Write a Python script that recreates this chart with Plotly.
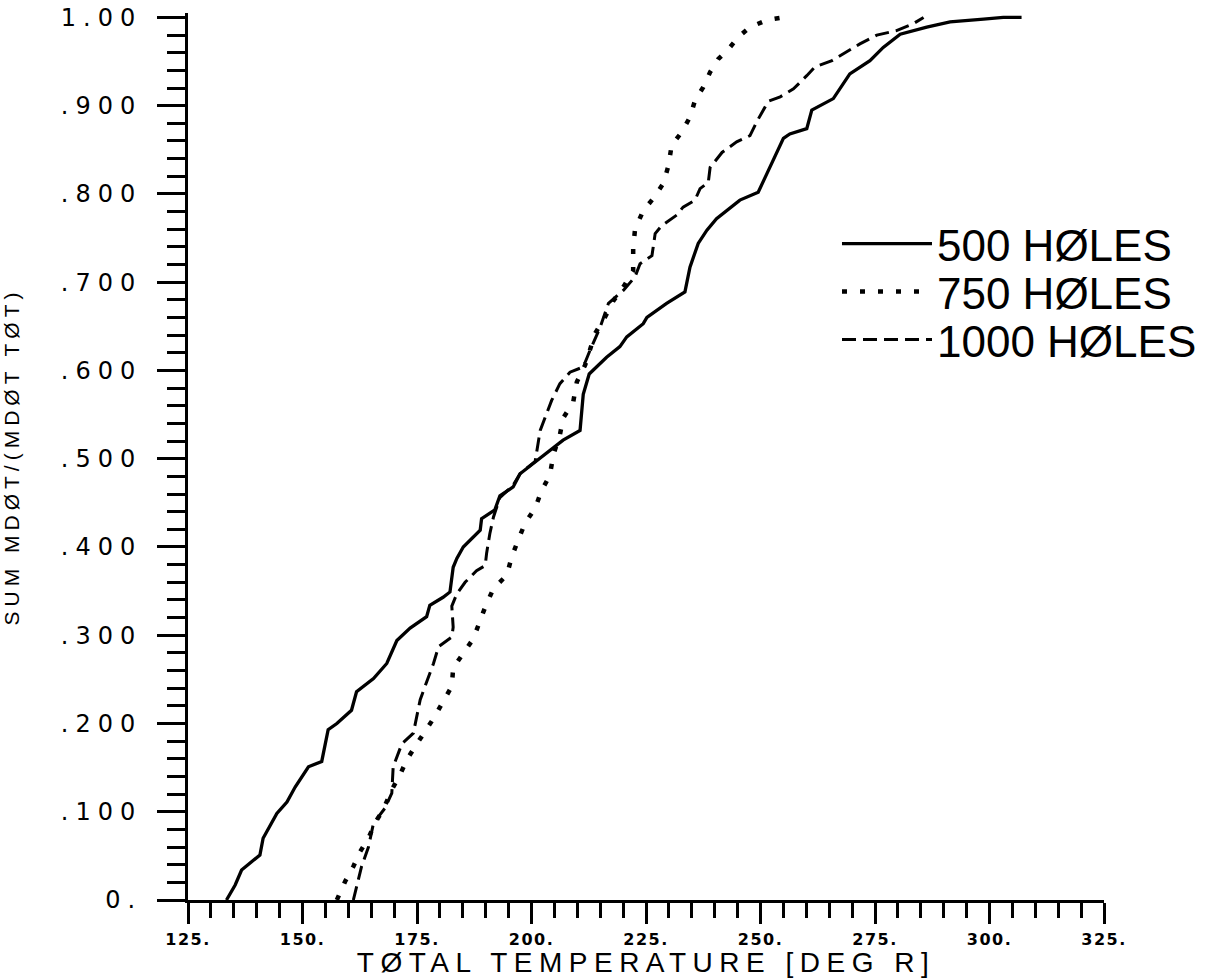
import plotly.graph_objects as go

# ---- data ----
temp_500 = [133.4, 135.3, 136.7, 140.7, 141.4, 144.4, 146.6, 148.4, 151.3, 154.2, 155.6, 157.5,
            160.7, 161.8, 165.5, 168.4, 170.6, 173.5, 177.1, 177.8, 180.7, 182.2, 182.9, 183.7,
            185.1, 188.8, 189.1, 192.0, 193.1, 196.0, 197.5, 200.4, 203.7, 206.9, 210.6, 211.3,
            212.6, 215.0, 216.4, 219.3, 220.8, 224.4, 225.2, 229.5, 233.5, 234.6, 236.4, 238.3,
            240.4, 245.5, 249.5, 251.4, 255.0, 256.4, 260.1, 261.2, 265.9, 269.5, 273.9, 276.8,
            280.5, 286.3, 291.4, 298.7, 303.0, 307.0]
frac_500 = [0.0, 0.017, 0.034, 0.051, 0.070, 0.098, 0.111, 0.128, 0.151, 0.157, 0.193, 0.200,
            0.215, 0.236, 0.251, 0.268, 0.294, 0.308, 0.321, 0.334, 0.343, 0.349, 0.377, 0.387,
            0.400, 0.419, 0.432, 0.442, 0.458, 0.468, 0.483, 0.495, 0.508, 0.521, 0.532, 0.573,
            0.596, 0.608, 0.615, 0.627, 0.638, 0.653, 0.660, 0.676, 0.689, 0.717, 0.744, 0.759,
            0.772, 0.793, 0.802, 0.823, 0.863, 0.868, 0.874, 0.895, 0.908, 0.936, 0.951, 0.966,
            0.981, 0.989, 0.995, 0.998, 1.0, 1.0]

temp_750 = [157.5, 159.3, 161.1, 162.6, 164.4, 165.8, 167.6, 169.5, 171.3, 172.8, 174.6, 176.8,
            178.9, 180.7, 182.6, 182.9, 185.1, 187.3, 189.9, 191.7, 194.6, 195.7, 197.1, 198.6,
            200.8, 202.2, 204.0, 204.8, 206.2, 206.9, 209.1, 209.9, 211.7, 212.8, 213.9, 216.1,
            217.9, 220.1, 222.2, 222.2, 222.6, 224.4, 226.6, 228.8, 229.9, 230.6, 232.8, 234.6,
            235.7, 237.5, 239.0, 240.8, 243.0, 245.2, 247.7, 251.4, 255.0]
frac_750 = [0.0, 0.021, 0.038, 0.055, 0.070, 0.087, 0.102, 0.125, 0.142, 0.159, 0.174, 0.191,
            0.208, 0.225, 0.242, 0.263, 0.279, 0.296, 0.332, 0.353, 0.368, 0.389, 0.408, 0.427,
            0.444, 0.464, 0.481, 0.505, 0.527, 0.546, 0.564, 0.587, 0.606, 0.623, 0.642, 0.661,
            0.679, 0.695, 0.713, 0.738, 0.760, 0.781, 0.795, 0.812, 0.832, 0.855, 0.870, 0.887,
            0.906, 0.921, 0.938, 0.953, 0.964, 0.978, 0.989, 0.997, 1.0]

temp_1000 = [161.1, 162.9, 164.4, 165.5, 168.0, 169.5, 169.8, 171.7, 174.2, 174.9, 175.7, 177.1,
             178.6, 179.7, 182.6, 182.9, 182.6, 183.7, 185.5, 188.0, 189.9, 190.2, 190.9, 191.7,
             193.1, 196.0, 197.5, 200.8, 201.9, 204.4, 206.2, 208.4, 211.3, 212.8, 215.0, 216.8,
             220.1, 222.6, 223.7, 226.3, 227.0, 228.4, 231.7, 233.1, 235.7, 236.8, 238.6, 239.0,
             241.6, 244.8, 247.7, 249.2, 251.7, 254.3, 257.2, 260.1, 261.9, 265.6, 268.8, 271.7,
             275.4, 279.7, 283.4, 285.6]
frac_1000 = [0.0, 0.038, 0.060, 0.087, 0.104, 0.121, 0.151, 0.177, 0.189, 0.208, 0.227, 0.247,
             0.268, 0.287, 0.298, 0.309, 0.333, 0.347, 0.360, 0.373, 0.379, 0.393, 0.415, 0.434,
             0.456, 0.470, 0.483, 0.497, 0.532, 0.566, 0.585, 0.598, 0.604, 0.623, 0.649, 0.676,
             0.691, 0.706, 0.721, 0.730, 0.755, 0.764, 0.776, 0.785, 0.793, 0.806, 0.813, 0.830,
             0.847, 0.859, 0.866, 0.882, 0.905, 0.910, 0.919, 0.934, 0.944, 0.951, 0.961, 0.970,
             0.980, 0.985, 0.993, 1.0]

series_names = ["500 HØLES", "750 HØLES", "1000 HØLES"]

x_tickvals = [125, 150, 175, 200, 225, 250, 275, 300, 325]
x_ticktext = ["125.", "150.", "175.", "200.", "225.", "250.", "275.", "300.", "325."]
y_tickvals = [0.0, 0.1, 0.2, 0.3, 0.4, 0.5, 0.6, 0.7, 0.8, 0.9, 1.0]
y_ticktext = ["0.", ".100", ".200", ".300", ".400", ".500", ".600", ".700", ".800", ".900", "1.00"]

x_title = "TØTAL TEMPERATURE [DEG R]"
y_title = "SUM MDØT/(MDØT TØT)"

# ---- styling ----
def spaced(t, px):
    return f'<span style="letter-spacing:{px}px">{t}</span>'

legend_font = dict(family="Liberation Sans, Arial, sans-serif", size=44, color="black")

fig = go.Figure()
fig.add_trace(go.Scatter(x=temp_500, y=frac_500, mode="lines", name=series_names[0],
                         line=dict(color="black", width=3.3), legend="legend"))
fig.add_trace(go.Scatter(x=temp_750, y=frac_750, mode="lines", name=series_names[1],
                         line=dict(color="black", width=4.5, dash="5px,13px"), legend="legend2"))
fig.add_trace(go.Scatter(x=temp_1000, y=frac_1000, mode="lines", name=series_names[2],
                         line=dict(color="black", width=3, dash="14px,7px"), legend="legend3"))

leg_common = dict(x=0.7085, xanchor="left", yanchor="middle", font=legend_font,
                  bgcolor="rgba(0,0,0,0)", borderwidth=0, itemwidth=90)

fig.update_layout(
    width=1212, height=978,
    margin=dict(l=188, r=108, t=13, b=78, autoexpand=False),
    paper_bgcolor="white", plot_bgcolor="white",
    showlegend=True,
    legend=dict(y=0.7396, **leg_common),
    legend2=dict(y=0.6855, **leg_common),
    legend3=dict(y=0.6314, **leg_common),
    xaxis=dict(
        range=[125, 325], showgrid=False, zeroline=False,
        showline=True, linecolor="black", linewidth=3,
        ticks="outside", ticklen=21, tickwidth=2.5, tickcolor="black",
        tickvals=x_tickvals, ticktext=[spaced(t, 1.5) for t in x_ticktext],
        tickfont=dict(family="DejaVu Sans", size=16, color="black", weight="bold"),
        ticklabelstandoff=2,
        minor=dict(dtick=5, tick0=125, ticks="outside", ticklen=15, tickwidth=2.5,
                   tickcolor="black", showgrid=False),
        title=dict(text=spaced(x_title, 6.5),
                   font=dict(family="Liberation Sans", size=28, color="black"),
                   standoff=9),
    ),
    yaxis=dict(
        range=[0, 1.005], showgrid=False, zeroline=False,
        showline=True, linecolor="black", linewidth=3,
        ticks="outside", ticklen=28, tickwidth=2.5, tickcolor="black",
        tickvals=y_tickvals, ticktext=[spaced(t, 7) for t in y_ticktext],
        tickfont=dict(family="DejaVu Sans", size=24, color="black"),
        ticklabelstandoff=10,
        minor=dict(dtick=0.02, tick0=0, ticks="outside", ticklen=18, tickwidth=2.5,
                   tickcolor="black", showgrid=False),
        title=dict(text=spaced(y_title, 5),
                   font=dict(family="Liberation Sans", size=21, color="black"),
                   standoff=38),
    ),
)

fig.write_html("out.html")
